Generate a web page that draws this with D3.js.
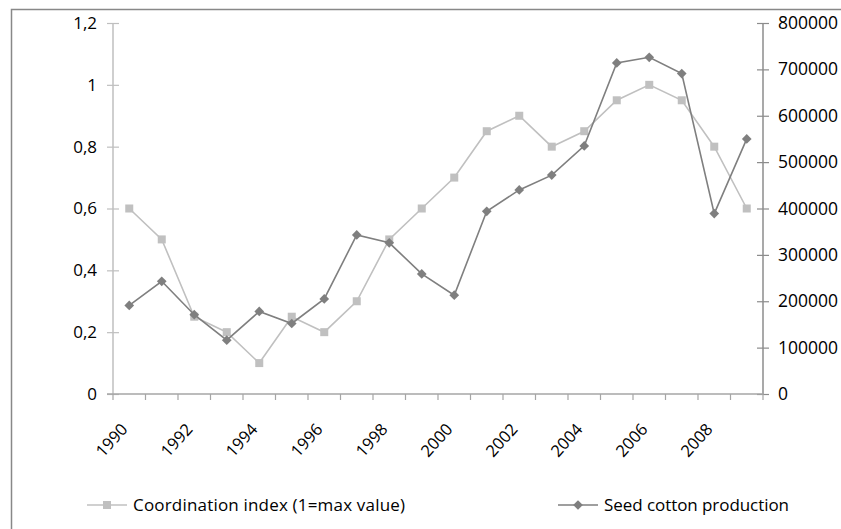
<!DOCTYPE html>
<html>
<head>
<meta charset="utf-8">
<script src="https://cdn.jsdelivr.net/npm/d3@7"></script>
<style>
  body { margin: 0; background: #fff; }
  text { font-family: "Open Sans", sans-serif; fill: #000; }
</style>
</head>
<body>
<svg id="chart" width="841" height="529"></svg>
<script>
var years = [1990, 1991, 1992, 1993, 1994, 1995, 1996, 1997, 1998, 1999,
             2000, 2001, 2002, 2003, 2004, 2005, 2006, 2007, 2008, 2009];
var coordIndex = [0.6, 0.5, 0.25, 0.2, 0.1, 0.25, 0.2, 0.3, 0.5, 0.6,
                  0.7, 0.85, 0.9, 0.8, 0.85, 0.95, 1.0, 0.95, 0.8, 0.6];
var seedCotton = [191000, 243000, 171000, 116000, 178000, 152000, 205000, 343000, 326000, 259000,
                  213000, 394000, 440000, 472000, 535000, 714000, 726000, 691000, 389000, 550000];
var leftTicks = [0, 0.2, 0.4, 0.6, 0.8, 1, 1.2];
var rightTicks = [0, 100000, 200000, 300000, 400000, 500000, 600000, 700000, 800000];
var yearLabels = [1990, 1992, 1994, 1996, 1998, 2000, 2002, 2004, 2006, 2008];
var seriesNames = ["Coordination index (1=max value)", "Seed cotton production"];

var svg = d3.select('#chart');

var plot = { left: 113, right: 763, top: 23, bottom: 394 };
var lightCol = '#c0c0c0',
    darkCol = '#7f7f7f';

// outer border of chart area
svg.append('rect')
    .attr('x', 11.5).attr('y', 9.5)
    .attr('width', 840).attr('height', 540)
    .attr('fill', 'none')
    .attr('stroke', '#888')
    .attr('stroke-width', 1.5);

var x = d3.scaleBand().domain(years).range([plot.left, plot.right]);
var yL = d3.scaleLinear().domain([0, 1.2]).range([plot.bottom, plot.top]);
var yR = d3.scaleLinear().domain([0, 800000]).range([plot.bottom, plot.top]);

// left axis
var leftAxis = svg.append('g')
    .attr('transform', 'translate(' + plot.left + ',0)')
    .call(d3.axisLeft(yL).tickValues(leftTicks).tickSize(6)
      .tickFormat(function (d) { return String(d).replace('.', ','); }));
leftAxis.select('.domain').remove();
leftAxis.append('line')
    .attr('y1', plot.top).attr('y2', plot.bottom)
    .attr('stroke', '#bfbfbf').attr('stroke-width', 1.5);
leftAxis.selectAll('.tick line')
    .attr('x1', -6).attr('x2', 6)
    .attr('stroke', '#bfbfbf').attr('stroke-width', 1.2);
leftAxis.selectAll('.tick text')
    .attr('x', -16)
    .style('font-size', '17px')
    .style('font-family', '"Open Sans", sans-serif')
    .attr('fill', '#000');

// right axis
var rightAxis = svg.append('g')
    .attr('transform', 'translate(' + plot.right + ',0)')
    .call(d3.axisRight(yR).tickValues(rightTicks).tickSize(6).tickFormat(d3.format('d')));
rightAxis.select('.domain').remove();
rightAxis.append('line')
    .attr('y1', plot.top).attr('y2', plot.bottom)
    .attr('stroke', '#8c8c8c').attr('stroke-width', 1.5);
rightAxis.selectAll('.tick line')
    .attr('x1', -6).attr('x2', 6)
    .attr('stroke', '#8c8c8c').attr('stroke-width', 1.2);
rightAxis.selectAll('.tick text')
    .attr('x', 15)
    .style('font-size', '17.5px')
    .style('font-family', '"Open Sans", sans-serif')
    .attr('fill', '#000');

// x axis
var xAxis = svg.append('g');
xAxis.append('line')
    .attr('x1', plot.left - 6).attr('x2', plot.right)
    .attr('y1', plot.bottom).attr('y2', plot.bottom)
    .attr('stroke', '#a6a6a6').attr('stroke-width', 1.5);
xAxis.selectAll('line.xtick')
    .data(years.concat(['end']))
    .enter().append('line')
    .attr('class', 'xtick')
    .attr('x1', function (d, i) { return i < years.length ? x(d) : plot.right; })
    .attr('x2', function (d, i) { return i < years.length ? x(d) : plot.right; })
    .attr('y1', plot.bottom).attr('y2', plot.bottom + 6)
    .attr('stroke', '#a6a6a6').attr('stroke-width', 1.2);
xAxis.selectAll('text.year')
    .data(yearLabels)
    .enter().append('text')
    .attr('class', 'year')
    .attr('transform', function (d) {
      return 'translate(' + (x(d) + x.bandwidth() / 2 - 5) + ',' + (plot.bottom + 32) + ') rotate(-48)';
    })
    .attr('text-anchor', 'end')
    .attr('dy', '0.35em')
    .style('font-size', '16.5px')
    .text(function (d) { return d; });

function cx(d, i) { return x(years[i]) + x.bandwidth() / 2; }

// coordination index series
svg.append('path')
    .datum(coordIndex)
    .attr('fill', 'none')
    .attr('stroke', lightCol)
    .attr('stroke-width', 1.6)
    .attr('d', d3.line().x(cx).y(function (d) { return yL(d); }));
svg.selectAll('rect.sq')
    .data(coordIndex)
    .enter().append('rect')
    .attr('class', 'sq')
    .attr('x', function (d, i) { return cx(d, i) - 4; })
    .attr('y', function (d) { return yL(d) - 4; })
    .attr('width', 8).attr('height', 8)
    .attr('fill', lightCol);

// seed cotton series
svg.append('path')
    .datum(seedCotton)
    .attr('fill', 'none')
    .attr('stroke', darkCol)
    .attr('stroke-width', 1.6)
    .attr('d', d3.line().x(cx).y(function (d) { return yR(d); }));
var diamond = d3.symbol().type(d3.symbolDiamond2).size(60);
svg.selectAll('path.dm')
    .data(seedCotton)
    .enter().append('path')
    .attr('class', 'dm')
    .attr('transform', function (d, i) { return 'translate(' + cx(d, i) + ',' + yR(d) + ')'; })
    .attr('d', diamond)
    .attr('fill', darkCol);

// legend
var legendItems = [
  { name: seriesNames[0], x: 87, col: lightCol, shape: 'square', len: 272 },
  { name: seriesNames[1], x: 558, col: darkCol, shape: 'diamond', len: 185 }
];
var lg = svg.selectAll('g.legend')
    .data(legendItems)
    .enter().append('g')
    .attr('class', 'legend')
    .attr('transform', function (d) { return 'translate(' + d.x + ',505)'; });
lg.append('line')
    .attr('x1', 0).attr('x2', 40)
    .attr('stroke', function (d) { return d.col; })
    .attr('stroke-width', 1.6);
lg.each(function (d) {
  var g = d3.select(this);
  if (d.shape === 'square') {
    g.append('rect').attr('x', 16).attr('y', -4).attr('width', 8).attr('height', 8).attr('fill', d.col);
  } else {
    g.append('path').attr('transform', 'translate(20,0)').attr('d', diamond).attr('fill', d.col);
  }
});
lg.append('text')
    .attr('x', 46)
    .attr('dy', '0.35em')
    .attr('textLength', function (d) { return d.len; })
    .attr('lengthAdjust', 'spacing')
    .style('font-size', '17px')
    .text(function (d) { return d.name; });
</script>
</body>
</html>
